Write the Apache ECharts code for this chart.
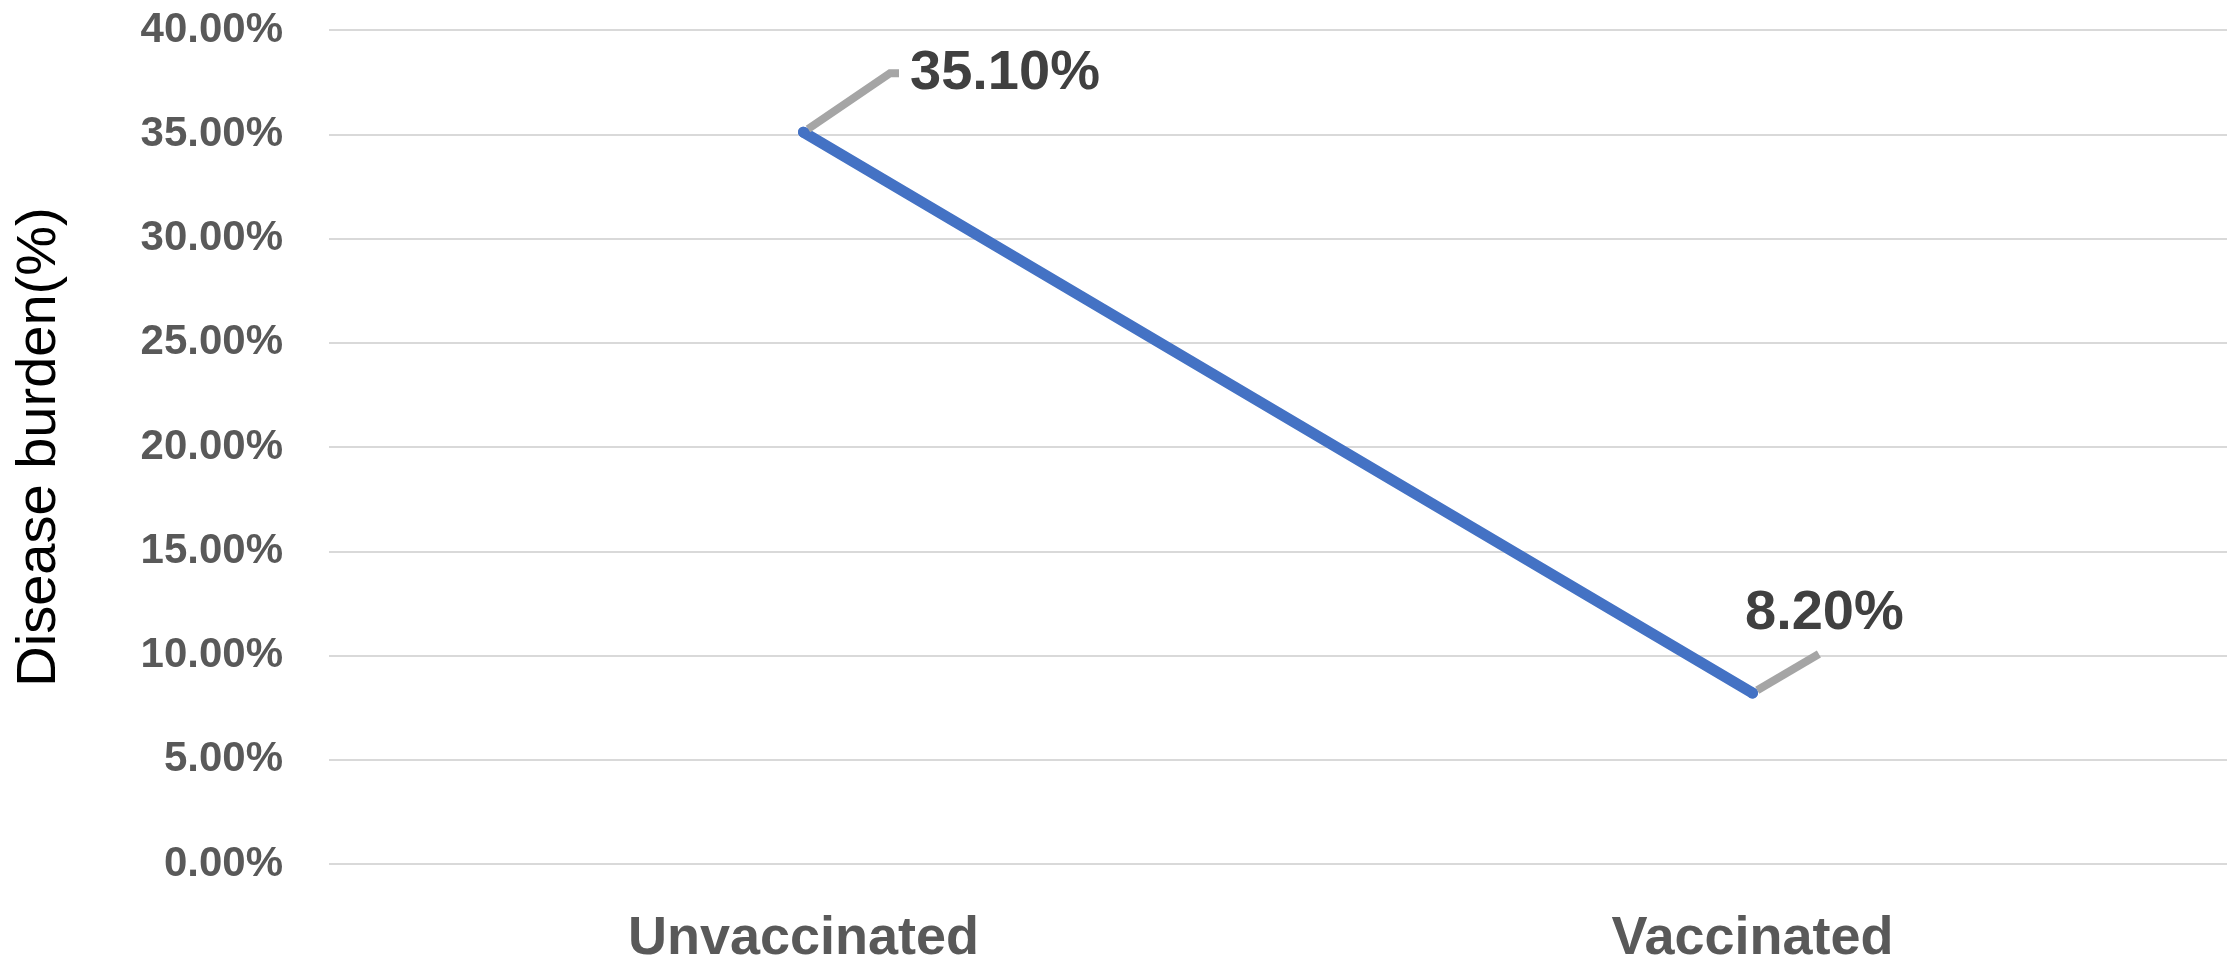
<!DOCTYPE html>
<html>
<head>
<meta charset="utf-8">
<style>
  html, body { margin: 0; padding: 0; background: #ffffff; }
  #chart { width: 2227px; height: 971px; }
</style>
<script src="https://cdn.jsdelivr.net/npm/echarts@6/dist/echarts.min.js"></script>
</head>
<body>
<div id="chart"></div>
<script>
// Disease burden by vaccination status
const categories = ['Unvaccinated', 'Vaccinated'];
const burden = [0.351, 0.082];
const axisName = 'Disease burden(%)';
// Offsets that move each value label away from its point, and the length
// of the short leader segment next to each label
const labelShift = [[85, -59], [-29, -79]];
const leaderStub = [9, 0];

const FONT = 'Liberation Sans, Arial, sans-serif';
const pct = v => (v * 100).toFixed(2) + '%';

const seriesData = burden.map((v, i) => ({
  value: v,
  labelLine: { length2: leaderStub[i] }
}));

const chart = echarts.init(document.getElementById('chart'), null, { renderer: 'canvas' });
chart.setOption({
  animation: false,
  backgroundColor: '#ffffff',
  grid: { left: 329, right: -8, top: 30, bottom: 107 },
  xAxis: {
    type: 'category',
    data: categories,
    boundaryGap: true,
    axisLine: { show: false },
    axisTick: { show: false },
    axisLabel: {
      margin: 48,
      color: '#595959',
      fontFamily: FONT,
      fontWeight: 'bold',
      fontSize: 54
    }
  },
  yAxis: {
    type: 'value',
    min: 0,
    max: 0.4,
    interval: 0.05,
    name: axisName,
    nameLocation: 'middle',
    nameGap: 261,
    nameTextStyle: { color: '#000000', fontFamily: FONT, fontSize: 56 },
    axisLine: { show: false },
    axisTick: { show: false },
    axisLabel: {
      margin: 46,
      color: '#595959',
      fontFamily: FONT,
      fontWeight: 'bold',
      fontSize: 42,
      formatter: pct
    },
    splitLine: { lineStyle: { color: '#D9D9D9', width: 2 } }
  },
  series: [{
    type: 'line',
    data: seriesData,
    symbol: 'circle',
    symbolSize: 11,
    itemStyle: { color: '#4472C4' },
    lineStyle: { color: '#4472C4', width: 11, cap: 'round', join: 'round' },
    label: {
      show: true,
      position: 'right',
      distance: 5,
      padding: [0, 0, 0, 11],
      lineHeight: 80,
      color: '#404040',
      fontFamily: FONT,
      fontWeight: 'bold',
      fontSize: 56,
      formatter: p => pct(p.value)
    },
    labelLine: {
      show: true,
      length2: 9,
      lineStyle: { color: '#A5A5A5', width: 8 }
    },
    labelLayout: p => ({ dx: labelShift[p.dataIndex][0], dy: labelShift[p.dataIndex][1] })
  }]
});
</script>
</body>
</html>
